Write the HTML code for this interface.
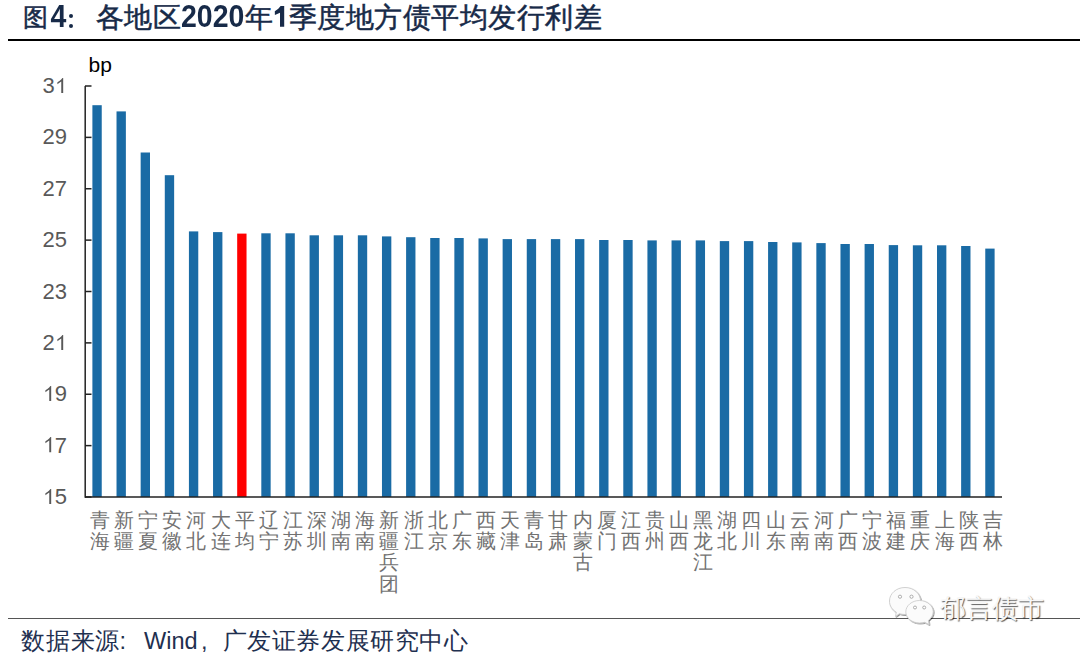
<!DOCTYPE html>
<html><head><meta charset="utf-8">
<style>
html,body{margin:0;padding:0;background:#fff;}
body{width:1080px;height:657px;position:relative;overflow:hidden;font-family:"Liberation Sans",sans-serif;}
.g{position:absolute;display:block;text-align:center;white-space:nowrap;}
.tt{color:#172a48;-webkit-text-stroke:0.5px #172a48;}
.xl{color:#727272;}
.ft{color:#1f3050;}
.tb{position:absolute;top:0px;font-size:28.5px;line-height:34px;font-weight:bold;color:#172a48;white-space:nowrap;transform:scaleY(1.12);transform-origin:0 26.5px;}
.fl{position:absolute;top:628px;font-size:23.5px;line-height:26px;color:#1f3050;white-space:nowrap;}
.dot{position:absolute;width:4.4px;height:4.4px;border-radius:50%;background:#172a48;}
.tline{position:absolute;left:8px;top:38.5px;width:1072px;height:2px;background:#000;}
.bline{position:absolute;left:8px;top:617.5px;width:1072px;height:1.3px;background:#555;}
svg{position:absolute;left:0;top:0;}
.yl{position:absolute;right:1013.0px;width:40px;text-align:right;font-size:22px;line-height:24px;color:#595959;}
.one{position:static;display:inline-block;width:0.556em;height:0.69em;vertical-align:baseline;}
.bp{position:absolute;left:88.5px;top:53.1px;font-size:21px;line-height:24px;color:#000;}
.wmc{color:#f7f7f7;text-shadow:1px 1px 1px rgba(0,0,0,0.65), -0.5px -0.5px 0 rgba(255,255,255,0.9);}
</style></head><body>
<span class="g tt" style="left:23.10px;top:5.10px;width:25px;height:25px;line-height:25px;font-size:25px">图</span><span class="g tt" style="left:95.50px;top:3.60px;width:28px;height:28px;line-height:28px;font-size:28px">各</span><span class="g tt" style="left:123.80px;top:3.60px;width:28px;height:28px;line-height:28px;font-size:28px">地</span><span class="g tt" style="left:152.70px;top:3.60px;width:28px;height:28px;line-height:28px;font-size:28px">区</span><span class="g tt" style="left:244.80px;top:3.60px;width:28px;height:28px;line-height:28px;font-size:28px">年</span><span class="g tt" style="left:288.80px;top:3.60px;width:28px;height:28px;line-height:28px;font-size:28px">季</span><span class="g tt" style="left:317.30px;top:3.60px;width:28px;height:28px;line-height:28px;font-size:28px">度</span><span class="g tt" style="left:345.80px;top:3.60px;width:28px;height:28px;line-height:28px;font-size:28px">地</span><span class="g tt" style="left:374.30px;top:3.60px;width:28px;height:28px;line-height:28px;font-size:28px">方</span><span class="g tt" style="left:402.80px;top:3.60px;width:28px;height:28px;line-height:28px;font-size:28px">债</span><span class="g tt" style="left:431.30px;top:3.60px;width:28px;height:28px;line-height:28px;font-size:28px">平</span><span class="g tt" style="left:459.80px;top:3.60px;width:28px;height:28px;line-height:28px;font-size:28px">均</span><span class="g tt" style="left:488.30px;top:3.60px;width:28px;height:28px;line-height:28px;font-size:28px">发</span><span class="g tt" style="left:516.80px;top:3.60px;width:28px;height:28px;line-height:28px;font-size:28px">行</span><span class="g tt" style="left:545.30px;top:3.60px;width:28px;height:28px;line-height:28px;font-size:28px">利</span><span class="g tt" style="left:573.80px;top:3.60px;width:28px;height:28px;line-height:28px;font-size:28px">差</span><span class="tb" style="left:50.5px">4</span><span class="dot" style="left:68.6px;top:13.8px"></span><span class="dot" style="left:68.6px;top:23.7px"></span><span class="tb" style="left:181px">2020</span><svg width="1080" height="40" style="position:absolute;left:0;top:0"><polygon points="280.6,6.1 284.2,6.1 284.2,26.8 280.0,26.8 280.0,12.8 274.9,15.0 274.8,11.3 278.3,8.8" fill="#172a48"/></svg>
<div class="tline"></div>
<svg width="1080" height="657" viewBox="0 0 1080 657">
<rect x="92.39" y="105.20" width="9.35" height="391.80" fill="#1a6ba5"/><rect x="116.52" y="111.40" width="9.35" height="385.60" fill="#1a6ba5"/><rect x="140.65" y="152.50" width="9.35" height="344.50" fill="#1a6ba5"/><rect x="164.79" y="175.20" width="9.35" height="321.80" fill="#1a6ba5"/><rect x="188.92" y="231.40" width="9.35" height="265.60" fill="#1a6ba5"/><rect x="213.05" y="232.10" width="9.35" height="264.90" fill="#1a6ba5"/><rect x="237.18" y="233.60" width="9.35" height="263.40" fill="#ff0000"/><rect x="261.31" y="233.30" width="9.35" height="263.70" fill="#1a6ba5"/><rect x="285.44" y="233.30" width="9.35" height="263.70" fill="#1a6ba5"/><rect x="309.57" y="235.30" width="9.35" height="261.70" fill="#1a6ba5"/><rect x="333.71" y="235.30" width="9.35" height="261.70" fill="#1a6ba5"/><rect x="357.84" y="235.30" width="9.35" height="261.70" fill="#1a6ba5"/><rect x="381.97" y="236.40" width="9.35" height="260.60" fill="#1a6ba5"/><rect x="406.10" y="237.20" width="9.35" height="259.80" fill="#1a6ba5"/><rect x="430.23" y="238.00" width="9.35" height="259.00" fill="#1a6ba5"/><rect x="454.36" y="238.00" width="9.35" height="259.00" fill="#1a6ba5"/><rect x="478.50" y="238.40" width="9.35" height="258.60" fill="#1a6ba5"/><rect x="502.63" y="239.10" width="9.35" height="257.90" fill="#1a6ba5"/><rect x="526.76" y="239.10" width="9.35" height="257.90" fill="#1a6ba5"/><rect x="550.89" y="239.10" width="9.35" height="257.90" fill="#1a6ba5"/><rect x="575.02" y="239.10" width="9.35" height="257.90" fill="#1a6ba5"/><rect x="599.15" y="240.00" width="9.35" height="257.00" fill="#1a6ba5"/><rect x="623.29" y="240.00" width="9.35" height="257.00" fill="#1a6ba5"/><rect x="647.42" y="240.40" width="9.35" height="256.60" fill="#1a6ba5"/><rect x="671.55" y="240.40" width="9.35" height="256.60" fill="#1a6ba5"/><rect x="695.68" y="240.40" width="9.35" height="256.60" fill="#1a6ba5"/><rect x="719.81" y="241.10" width="9.35" height="255.90" fill="#1a6ba5"/><rect x="743.94" y="241.10" width="9.35" height="255.90" fill="#1a6ba5"/><rect x="768.08" y="242.00" width="9.35" height="255.00" fill="#1a6ba5"/><rect x="792.21" y="242.40" width="9.35" height="254.60" fill="#1a6ba5"/><rect x="816.34" y="243.10" width="9.35" height="253.90" fill="#1a6ba5"/><rect x="840.47" y="244.00" width="9.35" height="253.00" fill="#1a6ba5"/><rect x="864.60" y="244.00" width="9.35" height="253.00" fill="#1a6ba5"/><rect x="888.73" y="245.10" width="9.35" height="251.90" fill="#1a6ba5"/><rect x="912.86" y="245.30" width="9.35" height="251.70" fill="#1a6ba5"/><rect x="937.00" y="245.30" width="9.35" height="251.70" fill="#1a6ba5"/><rect x="961.13" y="246.00" width="9.35" height="251.00" fill="#1a6ba5"/><rect x="985.26" y="248.60" width="9.35" height="248.40" fill="#1a6ba5"/>
<line x1="85.2" y1="86" x2="85.2" y2="497.7" stroke="#222" stroke-width="1.5"/>
<line x1="85" y1="497" x2="1002" y2="497" stroke="#222" stroke-width="1.5"/>
<line x1="85" y1="497.00" x2="91.5" y2="497.00" stroke="#222" stroke-width="1.5"/><line x1="85" y1="445.62" x2="91.5" y2="445.62" stroke="#222" stroke-width="1.5"/><line x1="85" y1="394.25" x2="91.5" y2="394.25" stroke="#222" stroke-width="1.5"/><line x1="85" y1="342.88" x2="91.5" y2="342.88" stroke="#222" stroke-width="1.5"/><line x1="85" y1="291.50" x2="91.5" y2="291.50" stroke="#222" stroke-width="1.5"/><line x1="85" y1="240.12" x2="91.5" y2="240.12" stroke="#222" stroke-width="1.5"/><line x1="85" y1="188.75" x2="91.5" y2="188.75" stroke="#222" stroke-width="1.5"/><line x1="85" y1="137.38" x2="91.5" y2="137.38" stroke="#222" stroke-width="1.5"/><line x1="85" y1="86.00" x2="91.5" y2="86.00" stroke="#222" stroke-width="1.5"/>
</svg>
<div class="bp">bp</div>
<div class="yl" style="top:485.00px"><svg class="one" viewBox="0 0 556 716" preserveAspectRatio="none"><polygon points="372.6,716 284.7,716 284.7,160 200,225 109,292 109,205 200,140 280,66 339,0 372.6,0" fill="currentColor"/></svg>5</div><div class="yl" style="top:433.62px"><svg class="one" viewBox="0 0 556 716" preserveAspectRatio="none"><polygon points="372.6,716 284.7,716 284.7,160 200,225 109,292 109,205 200,140 280,66 339,0 372.6,0" fill="currentColor"/></svg>7</div><div class="yl" style="top:382.25px"><svg class="one" viewBox="0 0 556 716" preserveAspectRatio="none"><polygon points="372.6,716 284.7,716 284.7,160 200,225 109,292 109,205 200,140 280,66 339,0 372.6,0" fill="currentColor"/></svg>9</div><div class="yl" style="top:330.88px">2<svg class="one" viewBox="0 0 556 716" preserveAspectRatio="none"><polygon points="372.6,716 284.7,716 284.7,160 200,225 109,292 109,205 200,140 280,66 339,0 372.6,0" fill="currentColor"/></svg></div><div class="yl" style="top:279.50px">23</div><div class="yl" style="top:228.12px">25</div><div class="yl" style="top:176.75px">27</div><div class="yl" style="top:125.38px">29</div><div class="yl" style="top:74.00px">3<svg class="one" viewBox="0 0 556 716" preserveAspectRatio="none"><polygon points="372.6,716 284.7,716 284.7,160 200,225 109,292 109,205 200,140 280,66 339,0 372.6,0" fill="currentColor"/></svg></div>
<span class="g xl" style="left:89.92px;top:510.65px;width:19.5px;height:19.5px;line-height:19.5px;font-size:19.5px">青</span><span class="g xl" style="left:89.92px;top:532.05px;width:19.5px;height:19.5px;line-height:19.5px;font-size:19.5px">海</span><span class="g xl" style="left:114.05px;top:510.65px;width:19.5px;height:19.5px;line-height:19.5px;font-size:19.5px">新</span><span class="g xl" style="left:114.05px;top:532.05px;width:19.5px;height:19.5px;line-height:19.5px;font-size:19.5px">疆</span><span class="g xl" style="left:138.18px;top:510.65px;width:19.5px;height:19.5px;line-height:19.5px;font-size:19.5px">宁</span><span class="g xl" style="left:138.18px;top:532.05px;width:19.5px;height:19.5px;line-height:19.5px;font-size:19.5px">夏</span><span class="g xl" style="left:162.31px;top:510.65px;width:19.5px;height:19.5px;line-height:19.5px;font-size:19.5px">安</span><span class="g xl" style="left:162.31px;top:532.05px;width:19.5px;height:19.5px;line-height:19.5px;font-size:19.5px">徽</span><span class="g xl" style="left:186.44px;top:510.65px;width:19.5px;height:19.5px;line-height:19.5px;font-size:19.5px">河</span><span class="g xl" style="left:186.44px;top:532.05px;width:19.5px;height:19.5px;line-height:19.5px;font-size:19.5px">北</span><span class="g xl" style="left:210.57px;top:510.65px;width:19.5px;height:19.5px;line-height:19.5px;font-size:19.5px">大</span><span class="g xl" style="left:210.57px;top:532.05px;width:19.5px;height:19.5px;line-height:19.5px;font-size:19.5px">连</span><span class="g xl" style="left:234.71px;top:510.65px;width:19.5px;height:19.5px;line-height:19.5px;font-size:19.5px">平</span><span class="g xl" style="left:234.71px;top:532.05px;width:19.5px;height:19.5px;line-height:19.5px;font-size:19.5px">均</span><span class="g xl" style="left:258.84px;top:510.65px;width:19.5px;height:19.5px;line-height:19.5px;font-size:19.5px">辽</span><span class="g xl" style="left:258.84px;top:532.05px;width:19.5px;height:19.5px;line-height:19.5px;font-size:19.5px">宁</span><span class="g xl" style="left:282.97px;top:510.65px;width:19.5px;height:19.5px;line-height:19.5px;font-size:19.5px">江</span><span class="g xl" style="left:282.97px;top:532.05px;width:19.5px;height:19.5px;line-height:19.5px;font-size:19.5px">苏</span><span class="g xl" style="left:307.10px;top:510.65px;width:19.5px;height:19.5px;line-height:19.5px;font-size:19.5px">深</span><span class="g xl" style="left:307.10px;top:532.05px;width:19.5px;height:19.5px;line-height:19.5px;font-size:19.5px">圳</span><span class="g xl" style="left:331.23px;top:510.65px;width:19.5px;height:19.5px;line-height:19.5px;font-size:19.5px">湖</span><span class="g xl" style="left:331.23px;top:532.05px;width:19.5px;height:19.5px;line-height:19.5px;font-size:19.5px">南</span><span class="g xl" style="left:355.36px;top:510.65px;width:19.5px;height:19.5px;line-height:19.5px;font-size:19.5px">海</span><span class="g xl" style="left:355.36px;top:532.05px;width:19.5px;height:19.5px;line-height:19.5px;font-size:19.5px">南</span><span class="g xl" style="left:379.49px;top:510.65px;width:19.5px;height:19.5px;line-height:19.5px;font-size:19.5px">新</span><span class="g xl" style="left:379.49px;top:532.05px;width:19.5px;height:19.5px;line-height:19.5px;font-size:19.5px">疆</span><span class="g xl" style="left:379.49px;top:553.45px;width:19.5px;height:19.5px;line-height:19.5px;font-size:19.5px">兵</span><span class="g xl" style="left:379.49px;top:575.25px;width:19.5px;height:19.5px;line-height:19.5px;font-size:19.5px">团</span><span class="g xl" style="left:403.63px;top:510.65px;width:19.5px;height:19.5px;line-height:19.5px;font-size:19.5px">浙</span><span class="g xl" style="left:403.63px;top:532.05px;width:19.5px;height:19.5px;line-height:19.5px;font-size:19.5px">江</span><span class="g xl" style="left:427.76px;top:510.65px;width:19.5px;height:19.5px;line-height:19.5px;font-size:19.5px">北</span><span class="g xl" style="left:427.76px;top:532.05px;width:19.5px;height:19.5px;line-height:19.5px;font-size:19.5px">京</span><span class="g xl" style="left:451.89px;top:510.65px;width:19.5px;height:19.5px;line-height:19.5px;font-size:19.5px">广</span><span class="g xl" style="left:451.89px;top:532.05px;width:19.5px;height:19.5px;line-height:19.5px;font-size:19.5px">东</span><span class="g xl" style="left:476.02px;top:510.65px;width:19.5px;height:19.5px;line-height:19.5px;font-size:19.5px">西</span><span class="g xl" style="left:476.02px;top:532.05px;width:19.5px;height:19.5px;line-height:19.5px;font-size:19.5px">藏</span><span class="g xl" style="left:500.15px;top:510.65px;width:19.5px;height:19.5px;line-height:19.5px;font-size:19.5px">天</span><span class="g xl" style="left:500.15px;top:532.05px;width:19.5px;height:19.5px;line-height:19.5px;font-size:19.5px">津</span><span class="g xl" style="left:524.28px;top:510.65px;width:19.5px;height:19.5px;line-height:19.5px;font-size:19.5px">青</span><span class="g xl" style="left:524.28px;top:532.05px;width:19.5px;height:19.5px;line-height:19.5px;font-size:19.5px">岛</span><span class="g xl" style="left:548.42px;top:510.65px;width:19.5px;height:19.5px;line-height:19.5px;font-size:19.5px">甘</span><span class="g xl" style="left:548.42px;top:532.05px;width:19.5px;height:19.5px;line-height:19.5px;font-size:19.5px">肃</span><span class="g xl" style="left:572.55px;top:510.65px;width:19.5px;height:19.5px;line-height:19.5px;font-size:19.5px">内</span><span class="g xl" style="left:572.55px;top:532.05px;width:19.5px;height:19.5px;line-height:19.5px;font-size:19.5px">蒙</span><span class="g xl" style="left:572.55px;top:553.45px;width:19.5px;height:19.5px;line-height:19.5px;font-size:19.5px">古</span><span class="g xl" style="left:596.68px;top:510.65px;width:19.5px;height:19.5px;line-height:19.5px;font-size:19.5px">厦</span><span class="g xl" style="left:596.68px;top:532.05px;width:19.5px;height:19.5px;line-height:19.5px;font-size:19.5px">门</span><span class="g xl" style="left:620.81px;top:510.65px;width:19.5px;height:19.5px;line-height:19.5px;font-size:19.5px">江</span><span class="g xl" style="left:620.81px;top:532.05px;width:19.5px;height:19.5px;line-height:19.5px;font-size:19.5px">西</span><span class="g xl" style="left:644.94px;top:510.65px;width:19.5px;height:19.5px;line-height:19.5px;font-size:19.5px">贵</span><span class="g xl" style="left:644.94px;top:532.05px;width:19.5px;height:19.5px;line-height:19.5px;font-size:19.5px">州</span><span class="g xl" style="left:669.07px;top:510.65px;width:19.5px;height:19.5px;line-height:19.5px;font-size:19.5px">山</span><span class="g xl" style="left:669.07px;top:532.05px;width:19.5px;height:19.5px;line-height:19.5px;font-size:19.5px">西</span><span class="g xl" style="left:693.21px;top:510.65px;width:19.5px;height:19.5px;line-height:19.5px;font-size:19.5px">黑</span><span class="g xl" style="left:693.21px;top:532.05px;width:19.5px;height:19.5px;line-height:19.5px;font-size:19.5px">龙</span><span class="g xl" style="left:693.21px;top:553.45px;width:19.5px;height:19.5px;line-height:19.5px;font-size:19.5px">江</span><span class="g xl" style="left:717.34px;top:510.65px;width:19.5px;height:19.5px;line-height:19.5px;font-size:19.5px">湖</span><span class="g xl" style="left:717.34px;top:532.05px;width:19.5px;height:19.5px;line-height:19.5px;font-size:19.5px">北</span><span class="g xl" style="left:741.47px;top:510.65px;width:19.5px;height:19.5px;line-height:19.5px;font-size:19.5px">四</span><span class="g xl" style="left:741.47px;top:532.05px;width:19.5px;height:19.5px;line-height:19.5px;font-size:19.5px">川</span><span class="g xl" style="left:765.60px;top:510.65px;width:19.5px;height:19.5px;line-height:19.5px;font-size:19.5px">山</span><span class="g xl" style="left:765.60px;top:532.05px;width:19.5px;height:19.5px;line-height:19.5px;font-size:19.5px">东</span><span class="g xl" style="left:789.73px;top:510.65px;width:19.5px;height:19.5px;line-height:19.5px;font-size:19.5px">云</span><span class="g xl" style="left:789.73px;top:532.05px;width:19.5px;height:19.5px;line-height:19.5px;font-size:19.5px">南</span><span class="g xl" style="left:813.86px;top:510.65px;width:19.5px;height:19.5px;line-height:19.5px;font-size:19.5px">河</span><span class="g xl" style="left:813.86px;top:532.05px;width:19.5px;height:19.5px;line-height:19.5px;font-size:19.5px">南</span><span class="g xl" style="left:837.99px;top:510.65px;width:19.5px;height:19.5px;line-height:19.5px;font-size:19.5px">广</span><span class="g xl" style="left:837.99px;top:532.05px;width:19.5px;height:19.5px;line-height:19.5px;font-size:19.5px">西</span><span class="g xl" style="left:862.13px;top:510.65px;width:19.5px;height:19.5px;line-height:19.5px;font-size:19.5px">宁</span><span class="g xl" style="left:862.13px;top:532.05px;width:19.5px;height:19.5px;line-height:19.5px;font-size:19.5px">波</span><span class="g xl" style="left:886.26px;top:510.65px;width:19.5px;height:19.5px;line-height:19.5px;font-size:19.5px">福</span><span class="g xl" style="left:886.26px;top:532.05px;width:19.5px;height:19.5px;line-height:19.5px;font-size:19.5px">建</span><span class="g xl" style="left:910.39px;top:510.65px;width:19.5px;height:19.5px;line-height:19.5px;font-size:19.5px">重</span><span class="g xl" style="left:910.39px;top:532.05px;width:19.5px;height:19.5px;line-height:19.5px;font-size:19.5px">庆</span><span class="g xl" style="left:934.52px;top:510.65px;width:19.5px;height:19.5px;line-height:19.5px;font-size:19.5px">上</span><span class="g xl" style="left:934.52px;top:532.05px;width:19.5px;height:19.5px;line-height:19.5px;font-size:19.5px">海</span><span class="g xl" style="left:958.65px;top:510.65px;width:19.5px;height:19.5px;line-height:19.5px;font-size:19.5px">陕</span><span class="g xl" style="left:958.65px;top:532.05px;width:19.5px;height:19.5px;line-height:19.5px;font-size:19.5px">西</span><span class="g xl" style="left:982.78px;top:510.65px;width:19.5px;height:19.5px;line-height:19.5px;font-size:19.5px">吉</span><span class="g xl" style="left:982.78px;top:532.05px;width:19.5px;height:19.5px;line-height:19.5px;font-size:19.5px">林</span>
<div class="bline"></div>
<span class="g ft" style="left:21.00px;top:629.40px;width:24px;height:24px;line-height:24px;font-size:24px">数</span><span class="g ft" style="left:45.80px;top:629.40px;width:24px;height:24px;line-height:24px;font-size:24px">据</span><span class="g ft" style="left:70.60px;top:629.40px;width:24px;height:24px;line-height:24px;font-size:24px">来</span><span class="g ft" style="left:95.40px;top:629.40px;width:24px;height:24px;line-height:24px;font-size:24px">源</span><span class="g ft" style="left:222.50px;top:629.40px;width:24px;height:24px;line-height:24px;font-size:24px">广</span><span class="g ft" style="left:247.10px;top:629.40px;width:24px;height:24px;line-height:24px;font-size:24px">发</span><span class="g ft" style="left:271.70px;top:629.40px;width:24px;height:24px;line-height:24px;font-size:24px">证</span><span class="g ft" style="left:296.30px;top:629.40px;width:24px;height:24px;line-height:24px;font-size:24px">券</span><span class="g ft" style="left:320.90px;top:629.40px;width:24px;height:24px;line-height:24px;font-size:24px">发</span><span class="g ft" style="left:345.50px;top:629.40px;width:24px;height:24px;line-height:24px;font-size:24px">展</span><span class="g ft" style="left:370.10px;top:629.40px;width:24px;height:24px;line-height:24px;font-size:24px">研</span><span class="g ft" style="left:394.70px;top:629.40px;width:24px;height:24px;line-height:24px;font-size:24px">究</span><span class="g ft" style="left:419.30px;top:629.40px;width:24px;height:24px;line-height:24px;font-size:24px">中</span><span class="g ft" style="left:443.90px;top:629.40px;width:24px;height:24px;line-height:24px;font-size:24px">心</span><span class="fl" style="left:119.5px">:</span><span class="fl" style="left:144px">Wind</span><span class="fl" style="left:201px">,</span>
<svg width="1080" height="657" viewBox="0 0 1080 657" style="position:absolute;left:0;top:0">
<defs><filter id="sh" x="-20%" y="-20%" width="140%" height="140%"><feDropShadow dx="0.8" dy="0.8" stdDeviation="0.6" flood-color="#000" flood-opacity="0.55"/></filter></defs>
<g filter="url(#sh)">
<path d="M905 587.5 C913.8 587.5 920.5 593.6 920.5 601 C920.5 608.5 913.8 614.5 905 614.5 C903 614.5 901 614.2 899.3 613.7 L895.5 616.5 L896.3 612.2 C892.2 609.8 889.5 605.7 889.5 601 C889.5 593.6 896.3 587.5 905 587.5 Z" fill="#fbfbfb" stroke="#c8c8c8" stroke-width="0.8"/>
<circle cx="900" cy="596.7" r="1.6" fill="#fff" stroke="#999" stroke-width="0.8"/>
<circle cx="911.5" cy="596.7" r="1.6" fill="#fff" stroke="#999" stroke-width="0.8"/>
<path d="M919.5 600.5 C927 600.5 933.2 605.6 933.2 611.8 C933.2 615.3 931.3 618.3 928.4 620.4 L929 624.6 L924.8 622.3 C923.1 622.8 921.3 623 919.5 623 C912 623 905.8 618 905.8 611.8 C905.8 605.6 912 600.5 919.5 600.5 Z" fill="#fbfbfb" stroke="#c8c8c8" stroke-width="0.8"/>
<circle cx="915" cy="607.5" r="1.5" fill="#fff" stroke="#999" stroke-width="0.8"/>
<circle cx="924.2" cy="607.5" r="1.5" fill="#fff" stroke="#999" stroke-width="0.8"/>
</g></svg>
<span class="g wmc" style="left:940.00px;top:595.30px;width:26px;height:26px;line-height:26px;font-size:26px">郁</span><span class="g wmc" style="left:966.00px;top:595.30px;width:26px;height:26px;line-height:26px;font-size:26px">言</span><span class="g wmc" style="left:992.00px;top:595.30px;width:26px;height:26px;line-height:26px;font-size:26px">债</span><span class="g wmc" style="left:1018.00px;top:595.30px;width:26px;height:26px;line-height:26px;font-size:26px">市</span>
</body></html>
